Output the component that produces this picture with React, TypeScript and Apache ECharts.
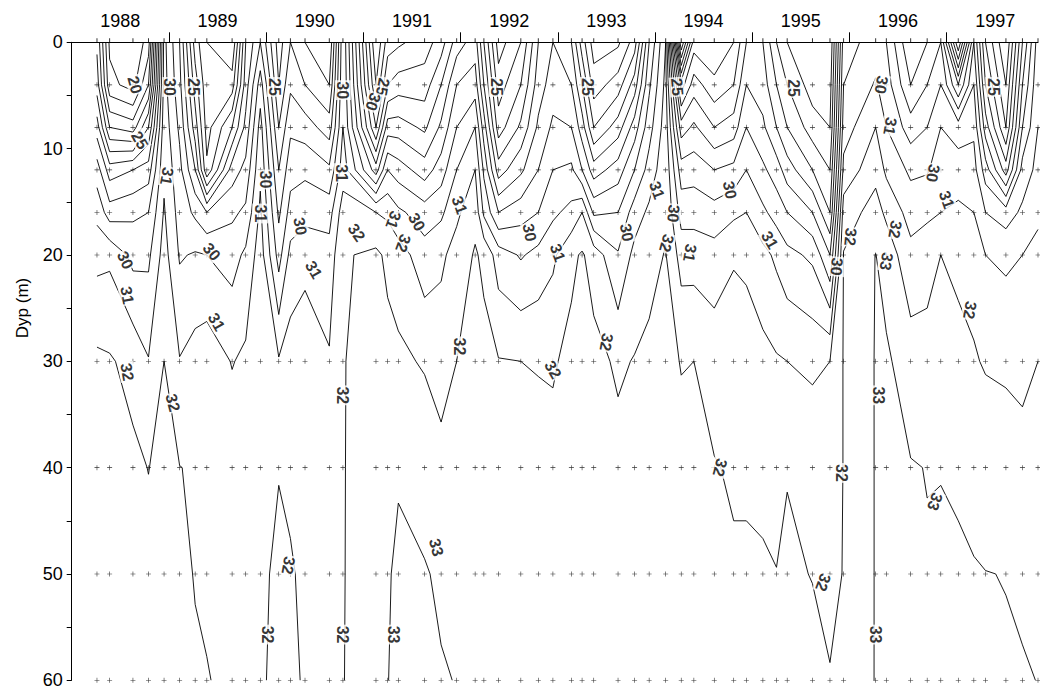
import React, { useEffect, useRef } from "react";
import * as echarts from "echarts";

// Sample dates (decimal years) of the CTD profiles
const sampleTimes = [
  1988.26, 1988.39, 1988.63, 1988.79, 1988.95, 1989.11, 1989.27, 1989.39, 1989.65, 1989.79,
  1989.94, 1990.13, 1990.25, 1990.4, 1990.65, 1990.79, 1991.13, 1991.25, 1991.36, 1991.63,
  1991.8, 1991.96, 1992.15, 1992.24, 1992.39, 1992.62, 1992.8, 1992.95, 1993.14, 1993.25,
  1993.37, 1993.62, 1993.79, 1993.94, 1994.11, 1994.27, 1994.4, 1994.61, 1994.81, 1994.94,
  1995.11, 1995.25, 1995.36, 1995.62, 1995.8, 1995.94, 1996.27, 1996.38, 1996.63, 1996.8,
  1996.94, 1997.12, 1997.28, 1997.4, 1997.61, 1997.78, 1997.94,
];

// Sampling depths (m)
const depths = [0, 4, 8, 12, 16, 20, 30, 40, 50, 60];

// Salinity at each depth, one value per sample date
const sal0 = [23.8, 19.8, 19.0, 20.5, 30.3, 28.0, 23.5, 22.0, 21.0, 26.0, 28.0, 24.5, 26.0, 25.0, 24.0, 29.8, 20.0, 22.5, 22.8, 23.5, 24.5, 26.5, 27.5, 25.0, 21.5, 23.0, 26.0, 27.0, 26.0, 23.5, 21.5, 21.8, 23.5, 28.0, 31.0, 18.0, 23.5, 23.0, 24.0, 26.0, 26.0, 24.0, 23.0, 22.0, 22.0, 28.5, 29.5, 29.0, 26.0, 27.0, 28.0, 21.0, 28.0, 24.0, 21.0, 26.0, 29.5];
const sal4 = [24.5, 20.3, 19.6, 22.0, 30.4, 28.3, 24.5, 22.3, 22.5, 26.5, 29.5, 25.0, 26.8, 26.0, 25.0, 29.9, 21.0, 24.0, 24.5, 24.5, 26.0, 28.0, 28.5, 26.0, 22.5, 24.0, 26.5, 27.5, 27.0, 25.0, 22.5, 23.5, 25.5, 28.8, 31.3, 23.5, 25.5, 24.3, 25.0, 27.0, 26.5, 25.0, 24.0, 22.5, 22.5, 29.0, 30.1, 29.5, 27.0, 28.0, 29.0, 26.0, 29.0, 25.0, 22.0, 27.0, 29.8];
const sal8 = [26.5, 23.0, 22.5, 25.0, 30.6, 28.8, 25.5, 22.6, 25.0, 27.3, 30.4, 26.0, 27.8, 27.5, 26.5, 30.0, 23.0, 26.5, 26.5, 25.8, 27.2, 29.0, 30.0, 27.5, 23.5, 25.2, 27.2, 28.2, 28.0, 26.5, 24.0, 25.5, 27.5, 29.6, 31.5, 26.5, 27.2, 26.0, 26.5, 28.0, 27.2, 26.0, 25.0, 23.5, 23.0, 29.5, 31.0, 30.0, 28.5, 29.0, 30.0, 29.5, 29.8, 26.5, 23.0, 28.0, 30.0];
const sal12 = [28.5, 26.5, 27.0, 27.5, 30.8, 29.3, 27.0, 23.2, 27.5, 28.3, 30.8, 27.0, 28.6, 28.8, 28.2, 30.5, 26.5, 29.0, 28.5, 27.5, 28.5, 30.0, 31.0, 28.8, 25.5, 26.8, 28.0, 29.0, 29.2, 28.0, 26.5, 27.5, 29.0, 30.4, 31.7, 28.5, 28.6, 28.0, 28.3, 29.0, 28.2, 27.5, 26.5, 25.0, 24.0, 30.3, 31.7, 30.8, 29.8, 29.9, 30.5, 30.5, 30.4, 28.5, 25.5, 29.4, 30.3];
const sal16 = [29.7, 28.5, 28.8, 29.0, 31.1, 29.6, 28.8, 28.0, 28.8, 29.2, 31.2, 27.8, 29.4, 29.6, 29.6, 31.5, 31.0, 30.8, 30.2, 29.5, 29.8, 30.8, 31.7, 29.8, 28.0, 28.6, 29.0, 29.8, 30.3, 31.0, 28.8, 29.0, 30.5, 31.2, 31.85, 29.6, 29.6, 29.4, 29.8, 30.0, 29.2, 28.6, 28.0, 27.0, 25.0, 31.5, 32.4, 31.8, 30.6, 30.8, 31.0, 31.2, 31.0, 30.0, 29.5, 30.2, 30.8];
const sal20 = [30.7, 30.8, 29.7, 29.8, 31.4, 29.9, 30.1, 30.0, 29.6, 30.2, 31.5, 28.6, 30.3, 30.8, 30.4, 31.9, 32.2, 31.8, 31.5, 30.4, 30.8, 31.4, 32.1, 31.8, 30.5, 29.9, 30.3, 30.8, 31.8, 32.1, 31.6, 30.1, 31.3, 31.7, 32.05, 30.6, 30.6, 30.4, 30.9, 30.8, 30.3, 29.8, 29.3, 28.8, 27.0, 32.05, 33.02, 32.6, 31.3, 31.6, 32.0, 31.7, 31.6, 31.0, 30.8, 31.0, 31.3];
const sal30 = [32.2, 32.1, 31.7, 31.05, 32.0, 31.05, 31.4, 31.6, 30.95, 31.2, 31.8, 31.1, 31.5, 31.4, 31.1, 31.95, 32.5, 32.3, 32.2, 31.9, 31.6, 32.0, 32.3, 32.3, 32.05, 32.0, 31.95, 31.9, 32.25, 32.3, 32.3, 31.85, 32.05, 32.2, 32.2, 31.97, 32.0, 31.6, 31.6, 31.5, 31.3, 31.1, 31.0, 30.8, 31.0, 32.05, 33.05, 33.15, 32.5, 32.4, 32.7, 32.4, 32.1, 31.9, 31.8, 31.7, 32.0];
const sal40 = [32.4, 32.4, 32.2, 31.98, 32.3, 32.02, 31.9, 31.85, 31.6, 31.6, 31.9, 31.98, 31.9, 31.8, 31.8, 31.95, 32.6, 32.8, 32.95, 32.7, 32.3, 32.5, 32.4, 32.4, 32.2, 32.2, 32.3, 32.3, 32.35, 32.4, 32.4, 32.3, 32.2, 32.3, 32.3, 32.2, 32.15, 32.05, 31.9, 31.9, 31.8, 31.7, 31.97, 31.7, 31.6, 32.02, 33.05, 33.2, 33.05, 32.98, 32.98, 32.95, 32.9, 32.7, 32.6, 32.4, 32.4];
const sal50 = [32.5, 32.5, 32.4, 32.3, 32.35, 32.1, 31.98, 31.93, 31.8, 31.8, 31.9, 32.1, 32.05, 31.9, 31.9, 31.95, 32.7, 32.95, 33.1, 33.05, 32.9, 32.85, 32.6, 32.5, 32.4, 32.5, 32.5, 32.5, 32.5, 32.5, 32.5, 32.4, 32.4, 32.4, 32.4, 32.4, 32.35, 32.3, 32.1, 32.1, 32.1, 32.02, 32.1, 31.98, 31.85, 32.02, 33.05, 33.2, 33.1, 33.05, 33.1, 33.05, 33.02, 33.01, 32.99, 32.9, 32.8];
const sal60 = [32.6, 32.6, 32.5, 32.45, 32.4, 32.15, 32.05, 32.02, 31.9, 31.9, 31.95, 32.1, 32.1, 31.95, 31.95, 31.96, 32.8, 32.98, 33.2, 33.1, 33.05, 32.98, 32.8, 32.7, 32.6, 32.6, 32.6, 32.6, 32.6, 32.6, 32.6, 32.6, 32.6, 32.6, 32.5, 32.5, 32.5, 32.4, 32.4, 32.3, 32.2, 32.2, 32.3, 32.2, 32.03, 32.05, 33.05, 33.2, 33.15, 33.1, 33.1, 33.1, 33.05, 33.05, 33.04, 33.05, 32.99];

// Isohaline levels drawn
const contourLevels = [19, 20, 21, 22, 23, 24, 25, 26, 27, 28, 29, 30, 31, 32, 33];

// Year tick labels (placed mid-year) and year boundaries
const yearLabels = [1988, 1989, 1990, 1991, 1992, 1993, 1994, 1995, 1996, 1997];
const yearBoundaries = [1989, 1990, 1991, 1992, 1993, 1994, 1995, 1996, 1997];

// Contour labels: [year, depth, text, angle]
const contourLabels: [number, number, string, number][] = [
  [1988.65, 4.0, "20", -75], [1989.01, 4.2, "30", -90], [1989.25, 4.2, "25", -90],
  [1988.7, 9.2, "25", -60], [1988.98, 12.6, "31", -100], [1990.09, 4.2, "25", -90],
  [1990.79, 4.5, "30", -90], [1991.2, 4.2, "25", -100], [1991.1, 5.6, "30", -110],
  [1992.37, 4.2, "25", -90], [1993.31, 4.2, "25", -90], [1994.23, 4.2, "25", -85],
  [1995.42, 4.3, "25", -90], [1996.33, 4.0, "30", -100], [1996.42, 7.9, "31", -100],
  [1997.48, 4.2, "25", -90], [1989.99, 12.9, "30", -90], [1989.94, 16.1, "31", -90],
  [1990.78, 12.3, "31", -90], [1990.35, 17.3, "30", -80], [1990.93, 17.9, "32", -55],
  [1991.31, 16.7, "31", -110], [1991.41, 18.9, "32", -110], [1991.55, 16.9, "30", -60],
  [1991.99, 15.3, "31", -70], [1992.71, 17.9, "30", -80], [1993.0, 19.8, "31", -70],
  [1993.71, 17.9, "30", -80], [1994.02, 13.9, "31", -70], [1994.19, 16.1, "30", -95],
  [1994.12, 18.9, "32", -105], [1994.36, 19.8, "31", -100], [1994.77, 13.9, "30", -80],
  [1995.18, 18.6, "31", -60], [1996.01, 18.3, "32", -95], [1995.87, 21.1, "30", -95],
  [1996.86, 12.3, "30", -100], [1997.0, 14.8, "31", -70], [1996.47, 17.6, "32", -100],
  [1996.38, 20.6, "33", -100], [1988.55, 20.5, "30", -65], [1988.57, 23.8, "31", -80],
  [1988.57, 31.0, "32", -80], [1989.04, 33.9, "32", -75], [1989.44, 19.7, "30", -50],
  [1989.49, 26.3, "31", -60], [1990.49, 21.4, "31", -60], [1990.79, 33.2, "32", -90],
  [1990.79, 55.7, "32", -90], [1990.01, 55.7, "32", -90], [1990.23, 49.2, "32", -100],
  [1991.31, 55.7, "33", -90], [1991.75, 47.5, "33", -75], [1991.99, 28.6, "32", -90],
  [1992.95, 30.8, "32", -60], [1993.5, 28.2, "32", -100], [1994.67, 40.0, "32", -105],
  [1995.73, 50.8, "32", -110], [1995.92, 40.5, "32", -90], [1996.3, 33.2, "33", -90],
  [1996.27, 55.7, "33", -90], [1996.88, 43.2, "33", -110], [1997.24, 25.2, "32", -100],
];

const salinityRows = [sal0, sal4, sal8, sal12, sal16, sal20, sal30, sal40, sal50, sal60];

// Marching squares on the rectilinear (time x depth) grid, chained into polylines
function traceContours(xs: number[], ys: number[], rows: number[][], level: number): number[][][] {
  const nx = xs.length;
  const ny = ys.length;
  const pts = new Map<string, number[]>();
  const segs: [string, string][] = [];
  const put = (key: string, x1: number, y1: number, v1: number, x2: number, y2: number, v2: number) => {
    if (!pts.has(key)) {
      const t = (level - v1) / (v2 - v1);
      pts.set(key, [x1 + t * (x2 - x1), y1 + t * (y2 - y1)]);
    }
    return key;
  };
  for (let j = 0; j < ny - 1; j++) {
    for (let i = 0; i < nx - 1; i++) {
      const a = rows[j][i], b = rows[j][i + 1], c = rows[j + 1][i + 1], d = rows[j + 1][i];
      const A = a >= level, B = b >= level, C = c >= level, D = d >= level;
      const top = A !== B ? put(`h${i}_${j}`, xs[i], ys[j], a, xs[i + 1], ys[j], b) : null;
      const bottom = D !== C ? put(`h${i}_${j + 1}`, xs[i], ys[j + 1], d, xs[i + 1], ys[j + 1], c) : null;
      const left = A !== D ? put(`v${i}_${j}`, xs[i], ys[j], a, xs[i], ys[j + 1], d) : null;
      const right = B !== C ? put(`v${i + 1}_${j}`, xs[i + 1], ys[j], b, xs[i + 1], ys[j + 1], c) : null;
      const list = [top, right, bottom, left].filter((k) => k !== null) as string[];
      if (list.length === 2) {
        segs.push([list[0], list[1]]);
      } else if (list.length === 4) {
        const center = (a + b + c + d) / 4 >= level;
        if (A !== center) segs.push([top as string, left as string]);
        if (B !== center) segs.push([top as string, right as string]);
        if (C !== center) segs.push([right as string, bottom as string]);
        if (D !== center) segs.push([bottom as string, left as string]);
      }
    }
  }
  const adj = new Map<string, number[]>();
  segs.forEach((s, k) => {
    for (const p of s) {
      if (!adj.has(p)) adj.set(p, []);
      adj.get(p)!.push(k);
    }
  });
  const used = new Array(segs.length).fill(false);
  const walk = (start: string) => {
    const path = [start];
    let cur = start;
    for (;;) {
      const next = (adj.get(cur) || []).find((k) => !used[k]);
      if (next === undefined) break;
      used[next] = true;
      const s = segs[next];
      cur = s[0] === cur ? s[1] : s[0];
      path.push(cur);
    }
    return path.map((k) => pts.get(k)!);
  };
  const lines: number[][][] = [];
  adj.forEach((ks, p) => {
    if (ks.length === 1 && !used[ks[0]]) lines.push(walk(p));
  });
  segs.forEach((s, k) => {
    if (!used[k]) lines.push(walk(s[0]));
  });
  return lines;
}

const FONT = "'Liberation Sans', Arial, Helvetica, sans-serif";

export default function App() {
  const ref = useRef<HTMLDivElement>(null);

  useEffect(() => {
    document.body.style.margin = "0";
    if (!ref.current) return;
    const chart = echarts.init(ref.current, undefined, { renderer: "svg" });

    const contourData = contourLevels.flatMap((L) =>
      traceContours(sampleTimes, depths, salinityRows, L).map((coords) => ({ coords }))
    );
    const plusData = sampleTimes.flatMap((t) => depths.filter((d) => d > 0).map((d) => [t, d]));
    const surfaceTicks = sampleTimes.map((t) => [t, 0]);
    const labelData = contourLabels.map(([x, y, text, angle]) => ({
      value: [x, y],
      name: text,
      label: { rotate: angle },
    }));

    chart.setOption({
      animation: false,
      backgroundColor: "#fff",
      textStyle: { fontFamily: FONT },
      grid: { left: 71.7, right: 2, top: 42.3, bottom: 11.7, containLabel: false },
      xAxis: {
        type: "value",
        position: "top",
        min: 1988,
        max: 1997.94,
        axisLine: { show: true, lineStyle: { color: "#000", width: 1 } },
        axisTick: { show: true, customValues: yearBoundaries, length: 10, lineStyle: { color: "#000" } },
        axisLabel: {
          customValues: yearLabels.map((y) => y + 0.5),
          formatter: (v: number) => String(Math.floor(v)),
          fontSize: 18,
          color: "#000",
          margin: 12,
          fontFamily: FONT,
        },
        splitLine: { show: false },
      },
      yAxis: {
        type: "value",
        inverse: true,
        min: 0,
        max: 60,
        interval: 10,
        axisLine: { show: true, lineStyle: { color: "#000", width: 1 } },
        axisTick: { show: true, length: 5, lineStyle: { color: "#000" } },
        minorTick: { show: true, splitNumber: 2, length: 5, lineStyle: { color: "#000" } },
        axisLabel: { fontSize: 18, color: "#000", margin: 9, fontFamily: FONT },
        splitLine: { show: false },
      },
      graphic: [
        {
          type: "text",
          x: 22,
          y: 308,
          rotation: Math.PI / 2,
          style: {
            text: "Dyp (m)",
            fontSize: 17,
            fontFamily: FONT,
            fill: "#000",
            align: "center",
            verticalAlign: "middle",
          },
        },
      ],
      series: [
        {
          type: "lines",
          coordinateSystem: "cartesian2d",
          polyline: true,
          silent: true,
          data: contourData,
          lineStyle: { color: "#000", width: 0.9, opacity: 1, curveness: 0 },
          z: 2,
        },
        {
          type: "scatter",
          silent: true,
          clip: false,
          data: plusData,
          symbol: "path://M0,4.4H10V5.6H0Z M4.4,0H5.6V10H4.4Z",
          symbolSize: 5,
          itemStyle: { color: "#000" },
          z: 3,
        },
        {
          type: "scatter",
          silent: true,
          clip: false,
          data: surfaceTicks,
          symbol: "rect",
          symbolSize: [1, 4],
          symbolOffset: [0, -2],
          itemStyle: { color: "#000" },
          z: 3,
        },
        {
          type: "scatter",
          silent: true,
          clip: false,
          data: labelData,
          symbolSize: 1,
          itemStyle: { color: "rgba(0,0,0,0)" },
          label: {
            show: true,
            position: "inside",
            formatter: "{b}",
            fontSize: 16,
            fontWeight: "bold",
            color: "#000",
            backgroundColor: "#fff",
            padding: [0, 1],
            fontFamily: FONT,
          },
          z: 5,
        },
      ],
    });

    return () => chart.dispose();
  }, []);

  return <div ref={ref} style={{ width: 1040, height: 692 }} />;
}
